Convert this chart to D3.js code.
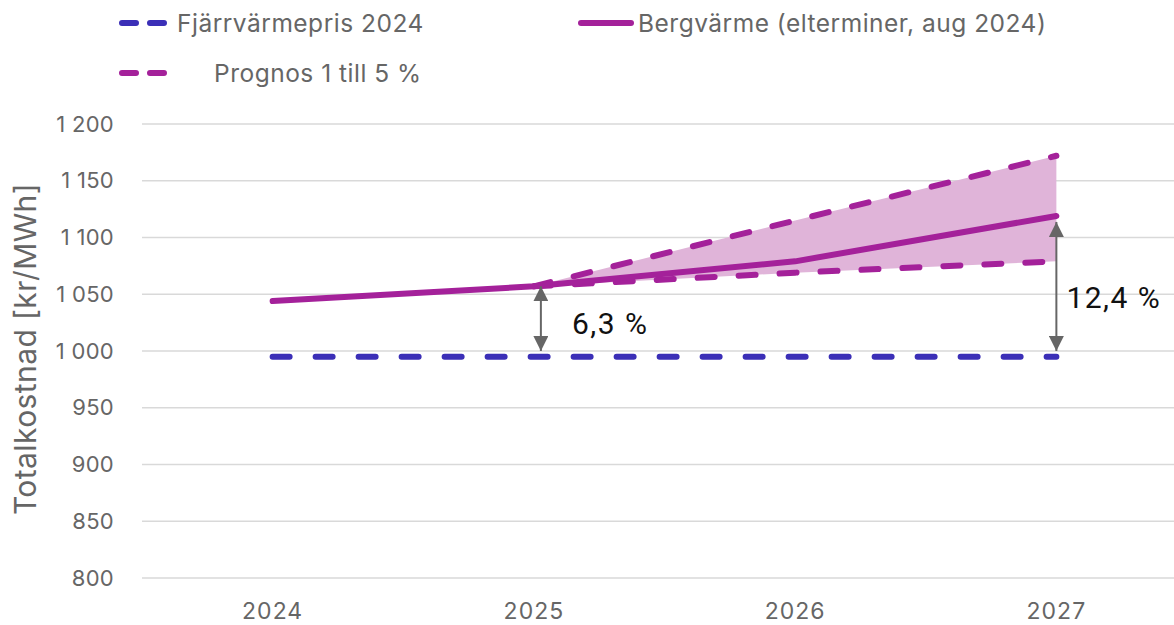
<!DOCTYPE html>
<html>
<head>
<meta charset="utf-8">
<script src="https://cdn.jsdelivr.net/npm/d3@7"></script>
<style>
  body { margin: 0; background: #fff; }
  svg { display: block; }
  text { font-family: Inter, "Noto Sans", sans-serif; }
</style>
</head>
<body>
<svg id="chart" width="1174" height="625"></svg>
<script>
'use strict';

// values
var years = ['2024', '2025', '2026', '2027'];
var fjarrvarme = [995, 995, 995, 995];
var bergvarme = [1044, 1057, 1079, 1119];
var prognosLow = [null, 1057, 1069, 1079];
var prognosHigh = [null, 1057, 1115, 1172];
var yTicks = [800, 850, 900, 950, 1000, 1050, 1100, 1150, 1200];
var diffYears = ['2025', '2027'];
var diffLabels = ['6,3 %', '12,4 %'];
var diffBase = 1000;

var purple = '#a4219a';
var blue = '#3b2fb7';
var grey = '#666666';

var svg = d3.select('#chart');
svg.append('rect').attr('width', 1174).attr('height', 625).attr('fill', '#fff');

var x = d3.scaleBand().domain(years).range([142, 1187]);
var y = d3.scaleLinear().domain([800, 1200]).range([578, 124]);
var cx = function (yr) { return x(yr) + x.bandwidth() / 2; };

var locale = d3.formatLocale({decimal: ',', thousands: ' ', grouping: [3], currency: ['', ' kr']});
var fmt = locale.format(',d');

// grid
svg.append('g')
  .selectAll('line')
  .data(yTicks)
  .enter()
  .append('line')
  .attr('x1', 142)
  .attr('x2', 1174)
  .attr('y1', function (d) { return y(d); })
  .attr('y2', function (d) { return y(d); })
  .attr('stroke', '#d9d9d9')
  .attr('stroke-width', 1.5);

// y axis
var yAxis = svg.append('g')
  .attr('transform', 'translate(114,0)')
  .call(d3.axisLeft(y).tickValues(yTicks).tickFormat(fmt).tickSize(0).tickPadding(0));
yAxis.select('.domain').remove();
yAxis.selectAll('text')
  .attr('fill', grey)
  .style('font-size', '22px')
  .style('letter-spacing', '0.3px')
  .style('font-family', 'Inter, sans-serif');

svg.append('text')
  .attr('transform', 'translate(36,349) rotate(-90)')
  .attr('text-anchor', 'middle')
  .attr('fill', grey)
  .style('font-size', '30px')
  .style('letter-spacing', '0.4px')
  .text('Totalkostnad [kr/MWh]');

// x axis
var xAxis = svg.append('g')
  .attr('transform', 'translate(0,611)')
  .call(d3.axisBottom(x).tickSize(0).tickPadding(0));
xAxis.select('.domain').remove();
xAxis.selectAll('text')
  .attr('fill', grey)
  .attr('dy', '0.36em')
  .style('font-size', '23px')
  .style('letter-spacing', '1px')
  .style('font-family', 'Inter, sans-serif');

// prognos band
var band = years.map(function (yr, i) {
  return {yr: yr, lo: prognosLow[i], hi: prognosHigh[i]};
}).filter(function (d) { return d.lo != null; });

svg.append('path')
  .datum(band)
  .attr('fill', '#e0b4d9')
  .attr('d', d3.area()
    .x(function (d) { return cx(d.yr); })
    .y0(function (d) { return y(d.lo); })
    .y1(function (d) { return y(d.hi); }));

var line = d3.line()
  .defined(function (d) { return d.v != null; })
  .x(function (d) { return cx(d.yr); })
  .y(function (d) { return y(d.v); });

var series = function (vals) {
  return years.map(function (yr, i) { return {yr: yr, v: vals[i]}; });
};

svg.append('path')
  .datum(series(fjarrvarme))
  .attr('fill', 'none')
  .attr('stroke', blue)
  .attr('stroke-width', 6)
  .attr('stroke-linecap', 'round')
  .attr('stroke-dasharray', '17,26')
  .attr('d', line);

[prognosLow, prognosHigh].forEach(function (vals) {
  svg.append('path')
    .datum(series(vals))
    .attr('fill', 'none')
    .attr('stroke', purple)
    .attr('stroke-width', 6)
    .attr('stroke-linecap', 'round')
    .attr('stroke-dasharray', '17,24')
    .attr('d', line);
});

svg.append('path')
  .datum(series(bergvarme))
  .attr('fill', 'none')
  .attr('stroke', purple)
  .attr('stroke-width', 6)
  .attr('stroke-linecap', 'round')
  .attr('stroke-linejoin', 'round')
  .attr('d', line);

// difference arrows
var defs = svg.append('defs');
defs.append('marker')
  .attr('id', 'head')
  .attr('viewBox', '0 0 10 10')
  .attr('refX', 10)
  .attr('refY', 5)
  .attr('markerUnits', 'userSpaceOnUse')
  .attr('markerWidth', 15)
  .attr('markerHeight', 15)
  .attr('orient', 'auto-start-reverse')
  .append('path')
  .attr('d', 'M0,0L10,5L0,10Z')
  .attr('fill', grey);

diffYears.forEach(function (yr, k) {
  var i = years.indexOf(yr);
  var top = y(bergvarme[i]) + (k === 0 ? 0 : 6);
  svg.append('line')
    .attr('x1', cx(yr) + (k === 0 ? 7 : 0))
    .attr('x2', cx(yr) + (k === 0 ? 7 : 0))
    .attr('y1', top)
    .attr('y2', y(diffBase))
    .attr('stroke', grey)
    .attr('stroke-width', 2)
    .attr('marker-start', 'url(#head)')
    .attr('marker-end', 'url(#head)');
  svg.append('text')
    .attr('x', cx(yr) + (k === 0 ? 38 : 10))
    .attr('y', (top + y(diffBase)) / 2 + (k === 0 ? 5 : 11))
    .attr('dy', '0.35em')
    .attr('fill', '#111')
    .style('font-family', 'Roboto, sans-serif')
    .style('font-size', '30px')
    .style('letter-spacing', '1.5px')
    .text(diffLabels[k]);
});

// legend
var legend = [
  {label: 'Fjärrvärmepris 2024', color: blue, dash: '14,14', x: 122, y: 23, tx: 177},
  {label: 'Bergvärme (elterminer, aug 2024)', color: purple, dash: null, x: 581, y: 23, tx: 638},
  {label: 'Prognos 1 till 5 %', color: purple, dash: '14,14', x: 122, y: 73, tx: 214}
];

var lg = svg.append('g').selectAll('g').data(legend).enter().append('g');
lg.append('line')
  .attr('x1', function (d) { return d.x; })
  .attr('x2', function (d) { return d.x + (d.dash ? 42 : 50); })
  .attr('y1', function (d) { return d.y; })
  .attr('y2', function (d) { return d.y; })
  .attr('stroke', function (d) { return d.color; })
  .attr('stroke-width', 6)
  .attr('stroke-linecap', 'round')
  .attr('stroke-dasharray', function (d) { return d.dash; });
lg.append('text')
  .attr('x', function (d) { return d.tx; })
  .attr('y', function (d) { return d.y; })
  .attr('dy', '0.35em')
  .attr('fill', grey)
  .style('font-size', '24.5px')
  .style('letter-spacing', '0.5px')
  .text(function (d) { return d.label; });
</script>
</body>
</html>
